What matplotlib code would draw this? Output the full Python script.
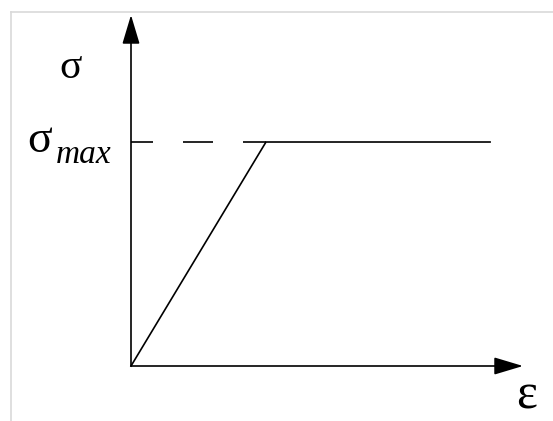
"""
Elastic-perfectly-plastic stress-strain sketch (sigma vs epsilon).
"""

import matplotlib
matplotlib.use("Agg")
import matplotlib.pyplot as plt
from matplotlib.lines import Line2D

# -----------------------------------------------------------------------------
# data (normalised: yield strain = 1, sigma_max = 1)
strain = [0.0, 1.0, 2.66]
stress = [0.0, 1.0, 1.0]

ref_strain = [0.0, 1.0]          # dashed sigma_max guide
ref_stress = [1.0, 1.0]

x_label = "ε"
y_label = "σ"
level_label = "σ"
level_sub = "max"

# -----------------------------------------------------------------------------
W, H, DPI = 553, 421, 100
fig = plt.figure(figsize=(W / DPI, H / DPI), dpi=DPI)
fig.patch.set_facecolor("white")

# light frame lines (top and left) of the original picture
fig.add_artist(Line2D([11 / W, 1.0], [1 - 12 / H, 1 - 12 / H],
                      transform=fig.transFigure, color="#d9d9d9", lw=1.2))
fig.add_artist(Line2D([11 / W, 11 / W], [0.0, 1 - 12 / H],
                      transform=fig.transFigure, color="#d9d9d9", lw=1.2))

ax = fig.add_axes([131 / W, 55 / H, 392 / W, 351 / H])
ax.set_xlim(0, 2.904)
ax.set_ylim(0, 1.567)
ax.axis("off")

lw = 1.2

# axes as arrows
arrow = dict(arrowstyle="-|>,head_length=18,head_width=5.4", mutation_scale=1,
             color="black", lw=lw, shrinkA=0, shrinkB=0)
ax.annotate("", xy=(1, 0), xytext=(0, 0), xycoords="axes fraction",
            textcoords="axes fraction", arrowprops=arrow)
ax.annotate("", xy=(0, 1), xytext=(0, 0), xycoords="axes fraction",
            textcoords="axes fraction", arrowprops=arrow)

# curve
ax.plot(strain, stress, color="black", lw=lw, clip_on=False,
        solid_joinstyle="miter")
ax.plot(ref_strain, ref_stress, color="black", lw=lw, clip_on=False,
        linestyle=(4.8, (18.0, 18.0)))

# labels
serif = "Liberation Serif"
ax.text(-0.45, 1.286, y_label, family=serif, fontsize=30,
        ha="center", va="baseline")
ax.text(-0.77, 0.955, level_label, family=serif, fontsize=33,
        ha="left", va="baseline")
ax.text(-0.555, 0.905, level_sub, family=serif, style="italic", fontsize=24,
        ha="left", va="baseline")
ax.text(2.93, -0.19, x_label, family=serif, fontsize=36,
        ha="center", va="baseline")

fig.savefig("out.png", dpi=DPI)
